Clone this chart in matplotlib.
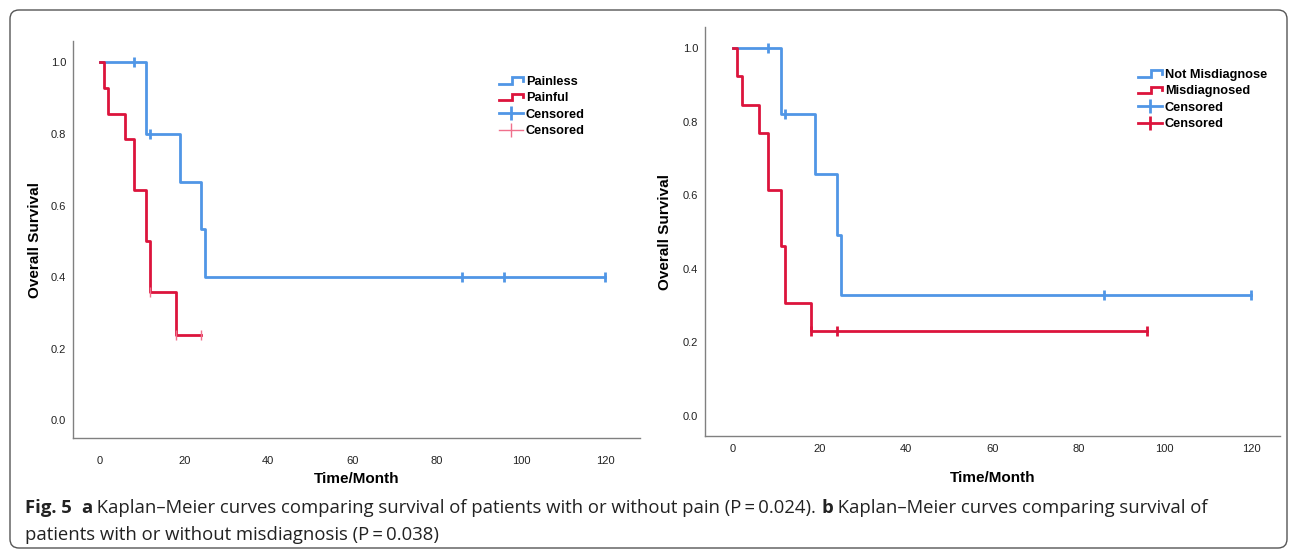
import numpy as np
import matplotlib
matplotlib.use("Agg")
import matplotlib.pyplot as plt
from matplotlib.lines import Line2D
from matplotlib.legend_handler import HandlerBase
from matplotlib.patches import FancyBboxPatch

plt.rcParams["font.family"] = ["Liberation Sans", "DejaVu Sans"]

BLUE = "#5096E6"
RED = "#DC143C"
PINK = "#F0708C"

# panel a: pain
a_blue_t = [0, 11, 19, 24, 25, 120]
a_blue_s = [1.0, 0.80, 0.667, 0.533, 0.40, 0.40]
a_blue_cens = [8, 12, 86, 96, 120]
a_red_t = [0, 1, 2, 6, 8, 11, 12, 18, 24]
a_red_s = [1.0, 0.929, 0.857, 0.786, 0.643, 0.50, 0.357, 0.238, 0.238]
a_red_cens = [12, 18, 24]
a_labels = ["Painless", "Painful", "Censored", "Censored"]

# panel b: misdiagnosis
b_blue_t = [0, 11, 19, 24, 25, 120]
b_blue_s = [1.0, 0.821, 0.657, 0.493, 0.329, 0.329]
b_blue_cens = [8, 12, 86, 120]
b_red_t = [0, 1, 2, 6, 8, 11, 12, 18, 96]
b_red_s = [1.0, 0.923, 0.846, 0.769, 0.615, 0.462, 0.308, 0.231, 0.231]
b_red_cens = [18, 24, 96]
b_labels = ["Not Misdiagnose", "Misdiagnosed", "Censored", "Censored"]

x_ticks = [0, 20, 40, 60, 80, 100, 120]
y_ticks = [0.0, 0.2, 0.4, 0.6, 0.8, 1.0]

W, H = 1295, 550


class StepHandler(HandlerBase):
    def create_artists(self, legend, orig, xd, yd, w, h, fs, trans):
        xs = [-xd, -xd + 0.55 * w, -xd + 0.55 * w, -xd + w, -xd + w]
        ys = [-yd + 0.15 * h, -yd + 0.15 * h, -yd + 0.85 * h, -yd + 0.85 * h, -yd + 0.45 * h]
        ln = Line2D(xs, ys, color=orig.get_color(), lw=orig.get_linewidth(),
                    solid_joinstyle="miter")
        ln.set_transform(trans)
        return [ln]


def surv_at(times, surv, t):
    idx = np.searchsorted(times, t, side="right") - 1
    return np.asarray(surv)[idx]


def panel(ax, bt, bs, bc, rt, rs, rc, red_cens_col, red_cens_lw, xlim, ylim):
    l1, = ax.step(bt, bs, where="post", color=BLUE, lw=2.0)
    l2, = ax.step(rt, rs, where="post", color=RED, lw=2.0)
    ax.plot(bc, surv_at(bt, bs, bc), ls="none", marker="|", ms=7, mew=2.0, color=BLUE)
    ax.plot(rc, surv_at(rt, rs, rc), ls="none", marker="|", ms=7, mew=red_cens_lw,
            color=red_cens_col)
    ax.set_xlim(*xlim)
    ax.set_ylim(*ylim)
    ax.set_xticks(x_ticks)
    ax.set_yticks(y_ticks)
    ax.set_yticklabels([f"{v:.1f}" for v in y_ticks])
    ax.tick_params(length=0, labelsize=8, colors="#222222")
    ax.tick_params(axis="y", pad=5)
    for s in ["top", "right"]:
        ax.spines[s].set_visible(False)
    for s in ["left", "bottom"]:
        ax.spines[s].set_color("#808080")
        ax.spines[s].set_linewidth(1.0)
    ax.set_ylabel("Overall Survival", fontsize=11, fontweight="bold")
    ax.set_xlabel("Time/Month", fontsize=11, fontweight="bold")
    h3 = Line2D([], [], color=BLUE, lw=2.0, marker="|", ms=10, mew=2.0)
    h4 = Line2D([], [], color=red_cens_col, lw=red_cens_lw, marker="|", ms=10, mew=red_cens_lw)
    return [l1, l2, h3, h4]


fig = plt.figure(figsize=(W / 100, H / 100), dpi=100)

frame = FancyBboxPatch((10 / 100, 2 / 100), 1277 / 100, 538 / 100,
                       boxstyle="round,pad=0,rounding_size=0.09",
                       transform=fig.dpi_scale_trans, fill=False,
                       edgecolor="#555555", lw=1.0)
fig.patches.append(frame)

ax1 = fig.add_axes([73 / W, 1 - 438 / H, 567 / W, 397 / H])
ax2 = fig.add_axes([705 / W, 1 - 436 / H, 575 / W, 409 / H])

hs1 = panel(ax1, a_blue_t, a_blue_s, a_blue_cens, a_red_t, a_red_s, a_red_cens,
            PINK, 1.0, (-6.4, 128.3), (-0.050, 1.060))
hs2 = panel(ax2, b_blue_t, b_blue_s, b_blue_cens, b_red_t, b_red_s, b_red_cens,
            RED, 2.0, (-6.5, 126.7), (-0.054, 1.057))
ax1.tick_params(axis="x", pad=13)
ax2.tick_params(axis="x", pad=6)
ax1.xaxis.labelpad = 4
ax2.xaxis.labelpad = 12
ax1.yaxis.labelpad = 6
ax2.yaxis.labelpad = 8

for ax, hs, labels, anchor in [(ax1, hs1, a_labels, (499, 76)), (ax2, hs2, b_labels, (1138, 69))]:
    handler = {hs[0]: StepHandler(), hs[1]: StepHandler()}
    ax.legend(hs, labels, loc="upper left",
              bbox_to_anchor=(anchor[0] / W, 1 - anchor[1] / H),
              bbox_transform=fig.transFigure, frameon=False, borderpad=0,
              borderaxespad=0, handlelength=1.9, handletextpad=0.2,
              labelspacing=0.35, prop={"weight": "bold", "size": 9.2},
              handler_map=handler)

# caption
cap_font = ["Open Sans", "DejaVu Sans"]
cap_size = 13.3
renderer = fig.canvas.get_renderer()


def text_w(s, bold):
    kw = dict(fontsize=cap_size, family=cap_font, fontweight="bold" if bold else "normal")
    t1 = fig.text(0, 0, "|" + s + "|", **kw)
    t2 = fig.text(0, 0, "||", **kw)
    w = t1.get_window_extent(renderer).width - t2.get_window_extent(renderer).width
    t1.remove()
    t2.remove()
    return w


def caption_line(x, y, runs):
    for s, bold in runs:
        fig.text(x / W, 1 - y / H, s, fontsize=cap_size, family=cap_font,
                 fontweight="bold" if bold else "normal", va="center", color="#222222")
        x += text_w(s, bold)


caption_line(25, 508, [("Fig. 5", True), ("  ", False), ("a", True),
                       (" Kaplan\u2013Meier curves comparing survival of patients with or without pain (P\u2009=\u20090.024). ", False),
                       ("b", True),
                       (" Kaplan\u2013Meier curves comparing survival of", False)])
caption_line(25, 535, [("patients with or without misdiagnosis (P\u2009=\u20090.038)", False)])

fig.savefig("out.png", dpi=100)
